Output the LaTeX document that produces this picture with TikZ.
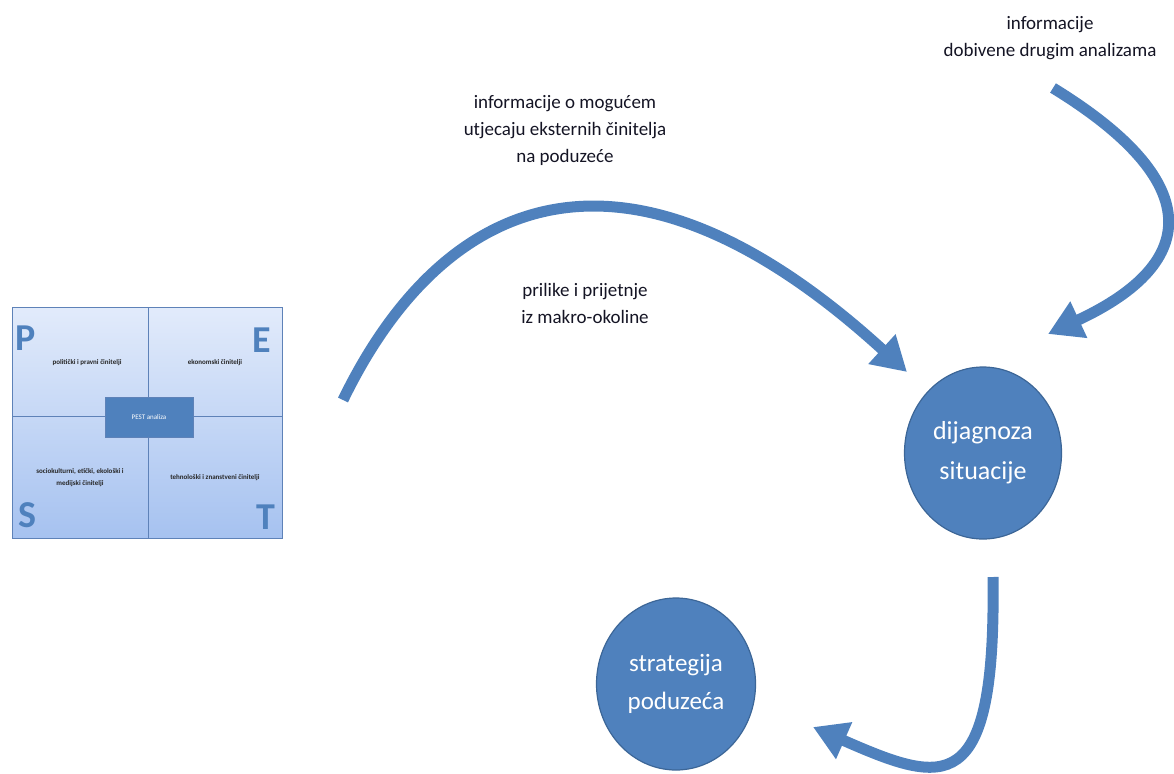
\documentclass[tikz,border=0pt]{standalone}
\usepackage{fontspec}
\setmainfont{Carlito}
\usetikzlibrary{arrows.meta,shapes.geometric}
\definecolor{accent}{HTML}{4F81BD}
\definecolor{accentdark}{HTML}{3C6697}
\definecolor{pesttop}{HTML}{E2EBFB}
\definecolor{pestbot}{HTML}{A6C2F0}
\definecolor{pestline}{HTML}{5E82B8}
\definecolor{labelcol}{HTML}{141424}
\tikzset{
  bigarrow/.style={draw=accent, line width=11pt, -{Triangle[length=34pt,width=38pt]}},
  circnode/.style={ellipse, fill=accent, draw=accentdark, line width=1.2pt, text=white, align=center, font=\fontsize{26}{40}\selectfont},
  toplabel/.style={align=center, text=labelcol, font=\fontsize{19}{27}\selectfont},
  pesttext/.style={align=center, text=black!85, font=\fontsize{7}{12}\selectfont\bfseries},
  pestletter/.style={text=accent, font=\fontsize{38}{38}\selectfont\bfseries},
}
\begin{document}
\begin{tikzpicture}[x=1pt,y=-1pt]
\useasboundingbox (0,0) rectangle (1174,773);
% PEST box
\shade[top color=pesttop, bottom color=pestbot] (12,307) rectangle (282,538);
\draw[pestline, line width=0.9pt] (12,307) rectangle (282,538);
\draw[pestline, line width=0.9pt] (148,307) -- (148,538);
\draw[pestline, line width=0.9pt] (12,416) -- (282,416);
\node[pestletter] (P) at (26,338) {P};
\node[pestletter] (E) at (262,340) {E};
\node[pestletter] (S) at (27,515) {S};
\node[pestletter] (T) at (266,517) {T};
\node[pesttext] (pp) at (87,363) {politički i pravni činitelji};
\node[pesttext] (ek) at (215,363) {ekonomski činitelji};
\node[pesttext] (so) at (80,478) {sociokulturni, etički, ekološki i\\medijski činitelji};
\node[pesttext] (te) at (215,478) {tehnološki i znanstveni činitelji};
\node[draw=pestline, fill=accent, minimum width=88pt, minimum height=40pt, text=white, font=\fontsize{7}{8}\selectfont] (pest) at (149,417) {PEST analiza};
% ellipses
\node[circnode, minimum width=157pt, minimum height=172pt] (dij) at (983,453) {dijagnoza\\situacije};
\node[circnode, minimum width=159pt, minimum height=172pt, font=\fontsize{25}{38}\selectfont] (str) at (676,684) {strategija\\poduzeća};
% labels
\node[toplabel] (l1) at (565,130) {informacije o mogućem\\utjecaju eksternih činitelja\\na poduzeće};
\node[toplabel] (l2) at (585,303) {prilike i prijetnje\\iz makro-okoline};
\node[toplabel] (l3) at (1050,38) {informacije\\dobivene drugim analizama};
% arrows
\coordinate (a1s) at (343,400);
\coordinate (a1e) at (907,372);
\coordinate (a2s) at (1053,88);
\coordinate (a2e) at (1048,334);
\coordinate (a3s) at (993,577);
\coordinate (a3e) at (813,727);
\draw[bigarrow] (a1s) .. controls (440,200) and (620,110) .. (a1e);
\draw[bigarrow] (a2s) .. controls (1203,180) and (1203,262) .. (a2e);
\draw[bigarrow] (a3s) .. controls (996,800) and (945,785) .. (a3e);
\end{tikzpicture}
\end{document}
